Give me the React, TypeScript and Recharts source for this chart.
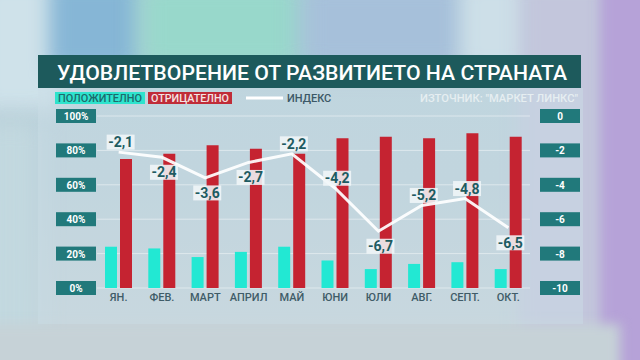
import React from "react";
import { ComposedChart, Bar, Line, XAxis, YAxis, CartesianGrid } from "recharts";

const months = ["ЯН.", "ФЕВ.", "МАРТ", "АПРИЛ", "МАЙ", "ЮНИ", "ЮЛИ", "АВГ.", "СЕПТ.", "ОКТ."];
const positive = [24, 23, 18, 21, 24, 16, 11, 14, 15, 11];
const negative = [75, 78, 83, 81, 78, 87, 88, 87, 90, 88];
const indexValues = [-2.1, -2.4, -3.6, -2.7, -2.2, -4.2, -6.7, -5.2, -4.8, -6.5];
const labelSide = ["above", "below", "below", "below", "above", "above", "below", "above", "above", "below"];
const leftTicks = [0, 20, 40, 60, 80, 100];
const rightTicks = [-10, -8, -6, -4, -2, 0];

const title = "УДОВЛЕТВОРЕНИЕ ОТ РАЗВИТИЕТО НА СТРАНАТА";
const legendPositive = "ПОЛОЖИТЕЛНО";
const legendNegative = "ОТРИЦАТЕЛНО";
const legendIndex = "ИНДЕКС";
const sourceText = "ИЗТОЧНИК: \"МАРКЕТ ЛИНКС\"";

const data = months.map((m, i) => ({
  month: m,
  pos: positive[i],
  neg: negative[i],
  idx: indexValues[i],
}));

const TEAL = "#22e8d3";
const RED = "#c52331";
const BOX = "#21797b";
const DARK = "#1d5b61";
const FONT = "Roboto, 'Open Sans', sans-serif";

const fmt = (v: number) => String(v).replace(".", ",");

const LeftTick = (props: any) => {
  const { x, y, payload } = props;
  return (
    <g>
      <rect x={x - 41} y={y - 7} width={40} height={14} fill={BOX} />
      <text x={x - 21} y={y + 4} textAnchor="middle" fill="#ffffff" fontSize={10} fontWeight={700} fontFamily={FONT}>
        {payload.value}%
      </text>
    </g>
  );
};

const RightTick = (props: any) => {
  const { x, y, payload } = props;
  return (
    <g>
      <rect x={x + 10} y={y - 7} width={40} height={14} fill={BOX} />
      <text x={x + 30} y={y + 4} textAnchor="middle" fill="#ffffff" fontSize={10} fontWeight={700} fontFamily={FONT}>
        {payload.value}
      </text>
    </g>
  );
};

const XTick = (props: any) => {
  const { x, y, payload } = props;
  return (
    <text x={x} y={y + 13} textAnchor="middle" fill="#3f5c68" fontSize={11} fontWeight={500} fontFamily={FONT}>
      {payload.value}
    </text>
  );
};

const IndexLabel = (props: any) => {
  const { x, y, value, index } = props;
  const above = labelSide[index] === "above";
  const cy = above ? y - 10 : y + 15;
  const cx = x + 2;
  return (
    <g>
      <rect x={cx - 14} y={cy - 7.5} width={28} height={15} fill="rgba(240,246,248,0.88)" />
      <text x={cx} y={cy + 5} textAnchor="middle" fill={DARK} fontSize={14} fontWeight={700} fontFamily={FONT}>
        {fmt(value)}
      </text>
    </g>
  );
};

export default function App() {
  return (
    <div style={{ position: "fixed", left: 0, top: 0, width: 640, height: 360, overflow: "hidden", fontFamily: FONT }}>
      {/* background */}
      <div style={{ position: "absolute", inset: 0, background: "linear-gradient(180deg, #b4cfd9 0%, #b9ced8 50%, #c8d4d9 100%)" }} />
      <div style={{ position: "absolute", left: -20, top: -20, width: 80, height: 130, background: "#cfe2ea", filter: "blur(10px)" }} />
      <div style={{ position: "absolute", left: 50, top: -20, width: 90, height: 90, background: "#86b6d6", filter: "blur(10px)" }} />
      <div style={{ position: "absolute", left: 140, top: -20, width: 170, height: 90, background: "#98d8cb", filter: "blur(12px)" }} />
      <div style={{ position: "absolute", left: 300, top: -20, width: 170, height: 90, background: "#a6c0da", filter: "blur(12px)" }} />
      <div style={{ position: "absolute", left: 460, top: -20, width: 70, height: 90, background: "#cddfe8", filter: "blur(10px)" }} />
      <div style={{ position: "absolute", left: 520, top: -20, width: 90, height: 400, background: "#c3c6dc", filter: "blur(10px)" }} />
      <div style={{ position: "absolute", left: 600, top: -20, width: 60, height: 400, background: "#b6a2d8", filter: "blur(6px)" }} />
      <div style={{ position: "absolute", left: -20, top: 120, width: 60, height: 240, background: "#c2d8df", filter: "blur(12px)" }} />
      <div style={{ position: "absolute", left: -20, top: 324, width: 640, height: 60, background: "#c6d2d7", filter: "blur(6px)" }} />
      {/* panel */}
      <div style={{ position: "absolute", left: 38, top: 88, width: 545, height: 236, background: "rgba(205,222,230,0.45)" }} />
      {/* title bar */}
      <div style={{ position: "absolute", left: 38, top: 55, width: 543, height: 33, background: "#1d5a5c" }} />
      <svg style={{ position: "absolute", left: 0, top: 0 }} width={640} height={360}>
        <text x={57} y={80} fill="#ffffff" fontSize={21} fontWeight={500} fontFamily={FONT} textLength={510} lengthAdjust="spacingAndGlyphs">
          {title}
        </text>
        <rect x={55} y={92} width={90} height={12} fill="#2ee3cd" />
        <text x={100} y={102} textAnchor="middle" fill="#1d6a6c" fontSize={11} fontWeight={500} fontFamily={FONT} textLength={84} lengthAdjust="spacingAndGlyphs">
          {legendPositive}
        </text>
        <rect x={148} y={92} width={84} height={12} fill="#c02c38" />
        <text x={190} y={102} textAnchor="middle" fill="#f4e4e4" fontSize={11} fontWeight={500} fontFamily={FONT} textLength={78} lengthAdjust="spacingAndGlyphs">
          {legendNegative}
        </text>
        <line x1={246} y1={98} x2={283} y2={98} stroke="#ffffff" strokeWidth={3} />
        <text x={287} y={102} fill="#3c5866" fontSize={11} fontWeight={500} fontFamily={FONT}>
          {legendIndex}
        </text>
        <text x={578} y={102} textAnchor="end" fill="#e6eef1" fontSize={11} fontWeight={500} fontFamily={FONT} textLength={158} lengthAdjust="spacingAndGlyphs">
          {sourceText}
        </text>
      </svg>
      <div style={{ position: "absolute", left: 0, top: 0 }}>
        <ComposedChart
          width={640}
          height={360}
          data={data}
          margin={{ top: 116, right: 60, bottom: 52, left: 56 }}
          barSize={12}
          barGap={3}
        >
          <CartesianGrid vertical={false} stroke="rgba(255,255,255,0.45)" yAxisId="left" />
          <XAxis dataKey="month" axisLine={false} tickLine={false} tickSize={0} tickMargin={0} tick={<XTick />} interval={0} height={20} />
          <YAxis yAxisId="left" domain={[0, 100]} ticks={leftTicks} width={41} axisLine={false} tickLine={false} tickSize={0} tickMargin={0} tick={<LeftTick />} />
          <YAxis yAxisId="right" orientation="right" domain={[-10, 0]} ticks={rightTicks} width={50} axisLine={false} tickLine={false} tickSize={0} tickMargin={0} tick={<RightTick />} />
          <Bar yAxisId="left" dataKey="pos" fill={TEAL} isAnimationActive={false} />
          <Bar yAxisId="left" dataKey="neg" fill={RED} isAnimationActive={false} />
          <Line yAxisId="right" dataKey="idx" stroke="rgba(255,255,255,0.92)" strokeWidth={3} dot={false} isAnimationActive={false} label={<IndexLabel />} />
        </ComposedChart>
      </div>
    </div>
  );
}
